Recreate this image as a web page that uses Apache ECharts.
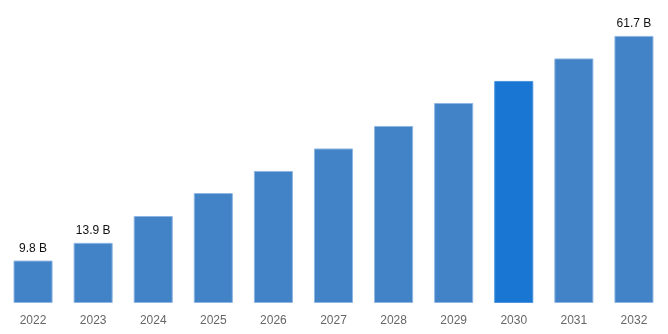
<!DOCTYPE html>
<html>
<head>
<meta charset="utf-8">
<script src="https://cdn.jsdelivr.net/npm/echarts@6/dist/echarts.min.js"></script>
<style>
  html, body { margin: 0; padding: 0; background: #fff; }
  #chart { width: 668px; height: 334px; }
</style>
</head>
<body>
<div id="chart"></div>
<script>
// Market size by year, in billions
const years = ['2022', '2023', '2024', '2025', '2026', '2027', '2028', '2029', '2030', '2031', '2032'];
const values = [9.8, 13.9, 20.1, 25.4, 30.5, 35.7, 40.9, 46.2, 51.3, 56.5, 61.7];
const labelledYears = ['2022', '2023', '2032'];
const highlightYear = '2030';

const baseColor = '#4282c6';
const highlightColor = '#1976d2';

const chart = echarts.init(document.getElementById('chart'));
chart.setOption({
  animation: false,
  grid: { left: 3, right: 4, top: 0, bottom: 31, containLabel: false },
  xAxis: {
    type: 'category',
    data: years,
    axisLine: { show: false },
    axisTick: { show: false },
    axisLabel: { color: '#666', fontSize: 12, fontFamily: 'Liberation Sans, Arial, sans-serif', margin: 12 }
  },
  yAxis: {
    type: 'value',
    min: 0,
    max: 70,
    show: false,
    splitLine: { show: false }
  },
  series: [{
    type: 'bar',
    barWidth: '65%',
    data: values.map((v, i) => ({
      value: v,
      itemStyle: {
        color: years[i] === highlightYear ? highlightColor : baseColor,
        borderColor: years[i] === highlightYear ? '#4a94e0' : '#8fb6e2',
        borderWidth: 1
      },
      label: { show: labelledYears.includes(years[i]) }
    })),
    label: {
      position: 'top',
      distance: 6,
      color: '#111',
      fontSize: 12,
      fontFamily: 'Liberation Sans, Arial, sans-serif',
      formatter: p => p.value + ' B'
    }
  }]
});
</script>
</body>
</html>
